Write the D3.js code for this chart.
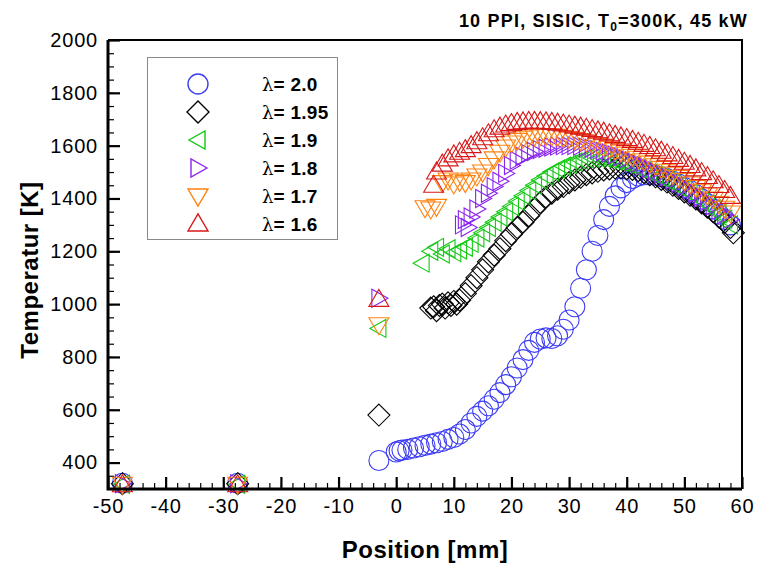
<!DOCTYPE html>
<html>
<head>
<meta charset="utf-8">
<script src="https://cdn.jsdelivr.net/npm/d3@7"></script>
<style>
  html, body { margin: 0; padding: 0; background: #fff; }
  svg { display: block; font-family: "Liberation Sans", Arial, Helvetica, sans-serif; }
</style>
</head>
<body>
<svg id="chart" width="759" height="566"></svg>
<script>
// Measured temperature profiles along the absorber, [position mm, temperature K]
const lambda200 = [[-47.5,322],[-27.5,322],[-3,408],
  [0,440],[0.5,445],[1,447],[2,450],[3,455],[4,460],[5,465],[6,470],[7,475],[8,480],[9,488],[10,495],
  [11,508],[12,525],[13,550],[14,575],[15,595],[16,615],[17,640],[18,665],[19,695],[20,725],[21,758],
  [22,790],[23,825],[24,855],[25,868],[26,872],[27,870],[28,880],[29,905],[30,940],[31,990],[32,1060],
  [33,1130],[34,1200],[35,1260],[36,1320],[37,1370],[38,1410],[39,1440],[40,1460],[41,1475],[42,1485],
  [43,1490],[44,1490],[45,1488],[46,1482],[47,1475],[48,1465],[49,1455],[50,1442],[51,1430],[52,1415],
  [53,1398],[54,1380],[55,1360],[56,1340],[57,1320],[58,1300]];

const lambda195 = [[-47.5,320],[-27.5,320],[-3,580],
  [6,985],[6.5,990],[7,975],[7.5,995],[8,1000],[8.5,985],[9,1005],[9.5,995],[10,1010],[10.5,1000],
  [11,1015],[12,1040],[13,1070],[14,1100],[15,1130],[16,1160],[17,1185],[18,1210],[19,1240],[20,1265],
  [21,1290],[22,1310],[23,1335],[24,1360],[25,1385],[26,1405],[27,1420],[28,1435],[29,1445],[30,1460],
  [31,1470],[32,1480],[33,1490],[34,1497],[35,1503],[36,1508],[37,1512],[38,1515],[39,1515],[40,1513],
  [41,1510],[42,1505],[43,1498],[44,1490],[45,1482],[46,1472],[47,1462],[48,1450],[49,1438],[50,1425],
  [51,1412],[52,1398],[53,1383],[54,1367],[55,1350],[56,1330],[57,1310],[58,1290],[58.5,1270]];

const lambda190 = [[-47.5,318],[-27.5,318],[-3,908],
  [4.5,1155],[6,1200],[7,1215],[8,1190],[9,1210],[10,1195],[11,1205],[12,1215],[13,1230],[14,1250],
  [15,1270],[16,1290],[17,1310],[18,1330],[19,1350],[20,1370],[21,1390],[22,1410],[23,1430],[24,1450],
  [25,1470],[26,1485],[27,1500],[28,1512],[29,1522],[30,1530],[31,1538],[32,1545],[33,1550],[34,1553],
  [35,1553],[36,1552],[37,1548],[38,1543],[39,1537],[40,1530],[41,1522],[42,1514],[43,1505],[44,1496],
  [45,1487],[46,1477],[47,1467],[48,1456],[49,1445],[50,1433],[51,1420],[52,1406],[53,1392],[54,1376],
  [55,1360],[56,1342],[57,1322],[58,1300]];

const lambda180 = [[-47.5,320],[-27.5,320],[-3,1022],
  [11.5,1300],[12,1320],[12.5,1290],[13,1330],[14,1360],[15,1400],[16,1420],[17,1445],[18,1465],
  [19,1495],[20,1525],[21,1545],[22,1560],[23,1570],[24,1578],[25,1585],[26,1590],[27,1595],[28,1598],
  [29,1600],[30,1600],[31,1600],[32,1598],[33,1594],[34,1590],[35,1585],[36,1578],[37,1572],[38,1565],
  [39,1558],[40,1550],[41,1542],[42,1533],[43,1524],[44,1514],[45,1504],[46,1493],[47,1482],[48,1470],
  [49,1458],[50,1445],[51,1432],[52,1418],[53,1403],[54,1388],[55,1372],[56,1355],[57,1338],[58,1320]];

const lambda170 = [[-47.5,318],[-27.5,318],[-3,922],
  [5,1365],[6,1360],[7,1370],[8,1460],[9,1470],[10,1455],[11,1465],[12,1460],[13,1470],[14,1485],
  [15,1500],[16,1525],[17,1550],[18,1575],[19,1595],[20,1610],[21,1620],[22,1628],[23,1633],[24,1637],
  [25,1638],[26,1638],[27,1637],[28,1635],[29,1632],[30,1628],[31,1624],[32,1619],[33,1614],[34,1608],
  [35,1602],[36,1596],[37,1590],[38,1583],[39,1576],[40,1568],[41,1560],[42,1552],[43,1543],[44,1534],
  [45,1524],[46,1514],[47,1503],[48,1492],[49,1480],[50,1468],[51,1455],[52,1442],[53,1428],[54,1413],
  [55,1398],[56,1381],[57,1363],[58,1345]];

const lambda160 = [[-47.5,316],[-27.5,316],[-3,1018],
  [6.5,1450],[7,1500],[8,1530],[9,1550],[10,1565],[11,1575],[12,1585],[13,1600],[14,1615],[15,1630],
  [16,1645],[17,1660],[18,1670],[19,1678],[20,1684],[21,1688],[22,1690],[23,1692],[24,1692],[25,1691],
  [26,1690],[27,1688],[28,1685],[29,1682],[30,1678],[31,1674],[32,1670],[33,1666],[34,1661],[35,1656],
  [36,1651],[37,1645],[38,1639],[39,1633],[40,1627],[41,1620],[42,1613],[43,1605],[44,1597],[45,1588],
  [46,1579],[47,1569],[48,1559],[49,1548],[50,1537],[51,1525],[52,1512],[53,1498],[54,1483],[55,1467],
  [56,1449],[57,1430],[58,1408]];

const seriesLabels = ["2.0", "1.95", "1.9", "1.8", "1.7", "1.6"];
const seriesColors = ["#3c3cf5", "#000000", "#14c814", "#8a22f0", "#ff8210", "#d81818"];
const seriesShapes = ["circle", "diamond", "left", "right", "down", "up"];
const seriesData = [lambda200, lambda195, lambda190, lambda180, lambda170, lambda160];

const xMajorTicks = [-50, -40, -30, -20, -10, 0, 10, 20, 30, 40, 50, 60];
const yMajorTicks = [400, 600, 800, 1000, 1200, 1400, 1600, 1800, 2000];

// Marker outlines, centred on the data point
const shapePath = {
  circle:  "M10,0A10,10 0 1,1 -10,0A10,10 0 1,1 10,0Z",
  diamond: "M0,-11L11,0L0,11L-11,0Z",
  left:    "M-9,0L7,-9L7,9Z",
  right:   "M9,0L-7,-9L-7,9Z",
  down:    "M-10,-7L10,-7L0,10Z",
  up:      "M-10,7L10,7L0,-10Z"
};

const svg = d3.select("#chart");
const plotLeft = 108, plotRight = 742, plotTop = 40, plotBottom = 489;

const x = d3.scaleLinear().domain([-50, 60]).range([plotLeft, plotRight]);
const y = d3.scaleLinear().domain([300, 2000]).range([plotBottom, plotTop]);

const plainNumber = d => String(d);

// Minor ticks
svg.append("g").attr("transform", `translate(0,${plotBottom})`)
  .call(d3.axisBottom(x).tickValues(d3.range(-50, 61, 2)).tickSize(-6).tickFormat(""))
  .call(g => g.select(".domain").remove())
  .call(g => g.selectAll("line").attr("stroke", "#000").attr("stroke-width", 1.2));
svg.append("g").attr("transform", `translate(${plotLeft},0)`)
  .call(d3.axisLeft(y).tickValues(d3.range(300, 2001, 50)).tickSize(-6).tickFormat(""))
  .call(g => g.select(".domain").remove())
  .call(g => g.selectAll("line").attr("stroke", "#000").attr("stroke-width", 1.2));

// Major ticks with labels
svg.append("g").attr("transform", `translate(0,${plotBottom})`)
  .call(d3.axisBottom(x).tickValues(xMajorTicks).tickSize(-12).tickPadding(10).tickFormat(plainNumber))
  .call(g => g.select(".domain").remove())
  .call(g => g.selectAll("line").attr("stroke", "#000").attr("stroke-width", 2.2))
  .call(g => g.selectAll("text").attr("font-size", 20).attr("letter-spacing", "0.8px").attr("fill", "#000")
    .attr("font-family", "'Liberation Sans', Arial, sans-serif").attr("dy", "0.72em"));
svg.append("g").attr("transform", `translate(${plotLeft},0)`)
  .call(d3.axisLeft(y).tickValues(yMajorTicks).tickSize(-12).tickPadding(10).tickFormat(plainNumber))
  .call(g => g.select(".domain").remove())
  .call(g => g.selectAll("line").attr("stroke", "#000").attr("stroke-width", 2.2))
  .call(g => g.selectAll("text").attr("font-size", 20).attr("letter-spacing", "0.8px").attr("fill", "#000")
    .attr("font-family", "'Liberation Sans', Arial, sans-serif"));

// Data markers
seriesData.forEach((data, i) => {
  svg.append("g")
    .selectAll("path")
    .data(data)
    .join("path")
    .attr("transform", d => `translate(${x(d[0])},${y(d[1])})`)
    .attr("d", shapePath[seriesShapes[i]])
    .attr("fill", "none")
    .attr("stroke", seriesColors[i])
    .attr("stroke-width", 1.1);
});

// Plot frame
svg.append("path")
  .attr("d", `M${plotLeft},${plotTop}H${plotRight}V${plotBottom}`)
  .attr("fill", "none").attr("stroke", "#000").attr("stroke-width", 2);
svg.append("path")
  .attr("d", `M${plotLeft},${plotTop}V${plotBottom}H${plotRight}`)
  .attr("fill", "none").attr("stroke", "#000").attr("stroke-width", 3);

// Legend
const legend = svg.append("g");
legend.append("rect")
  .attr("x", 147.5).attr("y", 57.5).attr("width", 190).attr("height", 182)
  .attr("fill", "#fff").attr("stroke", "#8a8a8a").attr("stroke-width", 1);
seriesLabels.forEach((lab, i) => {
  const cy = 84 + i * 28;
  legend.append("path")
    .attr("transform", `translate(198,${cy})`)
    .attr("d", shapePath[seriesShapes[i]])
    .attr("fill", "none").attr("stroke", seriesColors[i]).attr("stroke-width", 1.4);
  const t = legend.append("text")
    .attr("x", 262).attr("y", cy + 7)
    .attr("font-size", 19).attr("fill", "#000");
  t.append("tspan").attr("font-family", "'DejaVu Serif', serif").attr("font-size", 18).text("λ");
  t.append("tspan").attr("font-weight", "bold").attr("letter-spacing", "0.3px").text("= " + lab);
});

// Title
const title = svg.append("text")
  .attr("x", 748).attr("y", 27)
  .attr("text-anchor", "end")
  .attr("font-size", 18).attr("font-weight", "bold").attr("letter-spacing", "1.2px").attr("fill", "#000");
title.append("tspan").text("10 PPI, SISIC, T");
title.append("tspan").attr("font-size", 12).attr("dy", 4).text("0");
title.append("tspan").attr("dy", -4).text("=300K, 45 kW");

// Axis titles
svg.append("text")
  .attr("x", 425).attr("y", 558)
  .attr("text-anchor", "middle")
  .attr("font-size", 24).attr("font-weight", "bold").attr("letter-spacing", "0.5px").attr("fill", "#000")
  .text("Position [mm]");
svg.append("text")
  .attr("transform", "translate(38,270) rotate(-90)")
  .attr("text-anchor", "middle")
  .attr("font-size", 24).attr("font-weight", "bold").attr("letter-spacing", "0.5px").attr("fill", "#000")
  .text("Temperatur [K]");
</script>
</body>
</html>
